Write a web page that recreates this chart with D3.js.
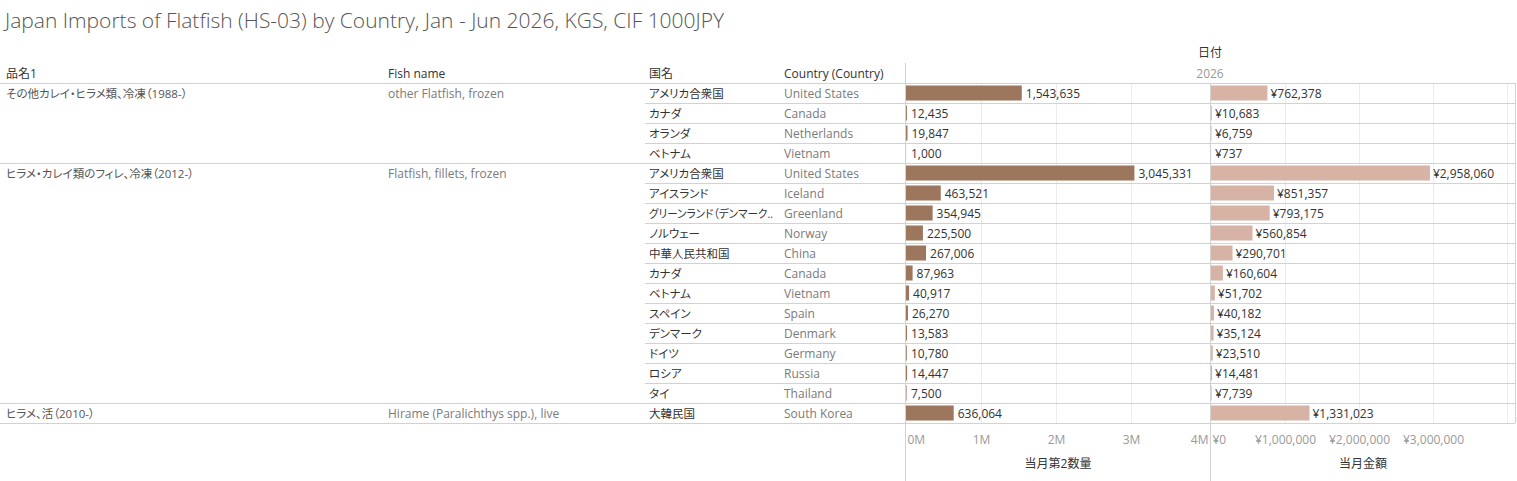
<!DOCTYPE html>
<html>
<head>
<meta charset="utf-8">
<script src="https://cdn.jsdelivr.net/npm/d3@7"></script>
<style>
  body { margin: 0; background: #fff; }
  svg { font-family: "Open Sans", "Noto Sans CJK JP", sans-serif; }
  .ja { font-feature-settings: "palt"; }
</style>
</head>
<body>
<svg id="chart"></svg>
<script>
// chart data
const productJa = ['その他カレイ・ヒラメ類、冷凍（1988-）', 'ヒラメ・カレイ類のフィレ、冷凍（2012-）', 'ヒラメ、活（2010-）'];
const productEn = ['other Flatfish, frozen', 'Flatfish, fillets, frozen', 'Hirame (Paralichthys spp.), live'];
const rowGroup = [0, 0, 0, 0, 1, 1, 1, 1, 1, 1, 1, 1, 1, 1, 1, 1, 2];
const countryJa = ['アメリカ合衆国', 'カナダ', 'オランダ', 'ベトナム', 'アメリカ合衆国', 'アイスランド',
  'グリーンランド（デンマーク..', 'ノルウェー', '中華人民共和国', 'カナダ', 'ベトナム', 'スペイン',
  'デンマーク', 'ドイツ', 'ロシア', 'タイ', '大韓民国'];
const countryEn = ['United States', 'Canada', 'Netherlands', 'Vietnam', 'United States', 'Iceland',
  'Greenland', 'Norway', 'China', 'Canada', 'Vietnam', 'Spain', 'Denmark', 'Germany', 'Russia',
  'Thailand', 'South Korea'];
const quantity = [1543635, 12435, 19847, 1000, 3045331, 463521, 354945, 225500, 267006, 87963,
  40917, 26270, 13583, 10780, 14447, 7500, 636064];
const amount = [762378, 10683, 6759, 737, 2958060, 851357, 793175, 560854, 290701, 160604,
  51702, 40182, 35124, 23510, 14481, 7739, 1331023];
const headers = ['品名1', 'Fish name', '国名', 'Country (Country)'];
const qtyTicks = [0, 1e6, 2e6, 3e6, 4e6];
const amtTicks = [0, 1e6, 2e6, 3e6, 4e6];

const W = 1517;
const H = 481;
const svg = d3.select('#chart').attr('width', W).attr('height', H);

const colX = [6, 388, 649, 784];
const rowTop = 83;
const rowH = 20;
const n = countryJa.length;
const rowBottom = rowTop + rowH * n;

const qtyPanel = [906, 1210];
const amtPanel = [1211, 1515];

const y = d3.scaleBand()
  .domain(d3.range(n))
  .range([rowTop, rowBottom])
  .paddingInner(0.25)
  .paddingOuter(0.125);
const yMid = (i) => y(i) + y.bandwidth() / 2 + 1;

const xQty = d3.scaleLinear().domain([0, 4e6]).range([906, 1206]);
const xAmt = d3.scaleLinear().domain([0, 4e6]).range([1211, 1507]);

const gridColor = '#ececec';
const lineColor = '#d2d2d2';

// title
svg.append('text')
  .attr('x', 5)
  .attr('y', 28)
  .attr('font-size', 21)
  .attr('font-weight', 300)
  .attr('fill', '#555')
  .text('Japan Imports of Flatfish (HS-03) by Country, Jan - Jun 2026, KGS, CIF 1000JPY');

// vertical gridlines in both panels
svg.append('g')
  .selectAll('line')
  .data(qtyTicks.slice(1, 4))
  .join('line')
  .attr('x1', (d) => xQty(d) + 0.5)
  .attr('x2', (d) => xQty(d) + 0.5)
  .attr('y1', rowTop)
  .attr('y2', rowBottom)
  .attr('stroke', gridColor);

svg.append('g')
  .selectAll('line')
  .data(amtTicks.slice(1))
  .join('line')
  .attr('x1', (d) => xAmt(d) + 0.5)
  .attr('x2', (d) => xAmt(d) + 0.5)
  .attr('y1', rowTop)
  .attr('y2', rowBottom)
  .attr('stroke', gridColor);

// row separators: full width at group boundaries, from 国名 column otherwise
const seps = d3.range(n + 1).map((i) => {
  const full = i === 0 || i === n || rowGroup[i] !== rowGroup[i - 1];
  return { y: rowTop + i * rowH, x1: full ? 0 : 645 };
});
svg.append('g')
  .selectAll('line')
  .data(seps)
  .join('line')
  .attr('x1', (d) => d.x1)
  .attr('x2', amtPanel[1])
  .attr('y1', (d) => d.y + 0.5)
  .attr('y2', (d) => d.y + 0.5)
  .attr('stroke', lineColor);

// panel dividers
svg.append('line')
  .attr('x1', 905.5).attr('x2', 905.5)
  .attr('y1', 63).attr('y2', H)
  .attr('stroke', lineColor);
svg.append('line')
  .attr('x1', 1210.5).attr('x2', 1210.5)
  .attr('y1', rowTop).attr('y2', H)
  .attr('stroke', lineColor);
svg.append('line')
  .attr('x1', 1515.5).attr('x2', 1515.5)
  .attr('y1', rowTop).attr('y2', rowBottom)
  .attr('stroke', lineColor);

// column headers
svg.append('g')
  .selectAll('text')
  .data(headers)
  .join('text')
  .attr('class', 'ja')
  .attr('x', (_, i) => colX[i])
  .attr('y', 74)
  .attr('dy', '0.35em')
  .attr('font-size', 12)
  .attr('fill', '#333')
  .text((d) => d);

svg.append('text')
  .attr('class', 'ja')
  .attr('x', 1210)
  .attr('y', 53)
  .attr('dy', '0.35em')
  .attr('text-anchor', 'middle')
  .attr('font-size', 12)
  .attr('fill', '#333')
  .text('日付');

svg.append('text')
  .attr('x', 1210)
  .attr('y', 74)
  .attr('dy', '0.35em')
  .attr('text-anchor', 'middle')
  .attr('font-size', 12)
  .attr('fill', '#999')
  .text('2026');

// product names on the first row of each group
const groupStart = productJa.map((_, g) => rowGroup.indexOf(g));
svg.append('g')
  .selectAll('text')
  .data(productJa)
  .join('text')
  .attr('class', 'ja')
  .attr('x', colX[0])
  .attr('y', (_, g) => yMid(groupStart[g]))
  .attr('dy', '0.35em')
  .attr('font-size', 11.5)
  .attr('fill', '#555')
  .text((d) => d);

svg.append('g')
  .selectAll('text')
  .data(productEn)
  .join('text')
  .attr('x', colX[1])
  .attr('y', (_, g) => yMid(groupStart[g]))
  .attr('dy', '0.35em')
  .attr('font-size', 12)
  .attr('fill', '#7a7a7a')
  .text((d) => d);

// country names
svg.append('g')
  .selectAll('text')
  .data(countryJa)
  .join('text')
  .attr('class', 'ja')
  .attr('x', colX[2])
  .attr('y', (_, i) => yMid(i))
  .attr('dy', '0.35em')
  .attr('font-size', 11.5)
  .attr('fill', '#333')
  .text((d) => d)
  .each(function () {
    // keep long names inside the column, as the reference truncates them
    const w = this.getComputedTextLength();
    if (w > 124) {
      d3.select(this).attr('textLength', 124).attr('lengthAdjust', 'spacingAndGlyphs');
    }
  });

svg.append('g')
  .selectAll('text')
  .data(countryEn)
  .join('text')
  .attr('x', colX[3])
  .attr('y', (_, i) => yMid(i))
  .attr('dy', '0.35em')
  .attr('font-size', 12)
  .attr('fill', '#7a7a7a')
  .text((d) => d);

// bars
svg.append('g')
  .selectAll('rect')
  .data(quantity)
  .join('rect')
  .attr('x', xQty(0))
  .attr('y', (_, i) => y(i))
  .attr('width', (d) => xQty(d) - xQty(0))
  .attr('height', y.bandwidth())
  .attr('fill', '#9c775d');

svg.append('g')
  .selectAll('rect')
  .data(amount)
  .join('rect')
  .attr('x', xAmt(0))
  .attr('y', (_, i) => y(i))
  .attr('width', (d) => xAmt(d) - xAmt(0))
  .attr('height', y.bandwidth())
  .attr('fill', '#d6b3a5');

// value labels
const fmt = d3.format(',');
svg.append('g')
  .selectAll('text')
  .data(quantity)
  .join('text')
  .attr('x', (d) => Math.max(xQty(d), xQty(0) + 1) + 4)
  .attr('y', (_, i) => yMid(i))
  .attr('dy', '0.35em')
  .attr('font-size', 12)
  .attr('fill', '#333')
  .text((d) => fmt(d));

svg.append('g')
  .selectAll('text')
  .data(amount)
  .join('text')
  .attr('x', (d) => Math.max(xAmt(d), xAmt(0) + 1) + 3)
  .attr('y', (_, i) => yMid(i))
  .attr('dy', '0.35em')
  .attr('font-size', 12)
  .attr('fill', '#333')
  .text((d) => `¥${fmt(d)}`);

// axes
const qtyAxis = svg.append('g')
  .attr('transform', `translate(0,${rowBottom + 9})`)
  .call(d3.axisBottom(xQty)
    .tickValues(qtyTicks)
    .tickSize(0)
    .tickFormat((d) => `${d / 1e6}M`));
qtyAxis.select('.domain').remove();
qtyAxis.selectAll('text')
  .attr('font-family', '"Open Sans", "Noto Sans CJK JP", sans-serif')
  .attr('font-size', 12)
  .attr('fill', '#999')
  .attr('text-anchor', (_, i) => (i === 0 ? 'start' : (i === qtyTicks.length - 1 ? 'end' : 'middle')))
  .attr('dx', (_, i) => (i === 0 ? 1 : (i === qtyTicks.length - 1 ? 2 : 0)));

const amtAxis = svg.append('g')
  .attr('transform', `translate(0,${rowBottom + 9})`)
  .call(d3.axisBottom(xAmt)
    .tickValues(amtTicks.slice(0, 4))
    .tickSize(0)
    .tickFormat((d) => `¥${fmt(d)}`));
amtAxis.select('.domain').remove();
amtAxis.selectAll('text')
  .attr('font-family', '"Open Sans", "Noto Sans CJK JP", sans-serif')
  .attr('font-size', 12)
  .attr('fill', '#999')
  .attr('text-anchor', (_, i) => (i === 0 ? 'start' : 'middle'))
  .attr('dx', (_, i) => (i === 0 ? 1 : 0));

svg.append('text')
  .attr('class', 'ja')
  .attr('x', (qtyPanel[0] + qtyPanel[1]) / 2)
  .attr('y', 464)
  .attr('dy', '0.35em')
  .attr('text-anchor', 'middle')
  .attr('font-size', 12)
  .attr('fill', '#333')
  .text('当月第2数量');

svg.append('text')
  .attr('class', 'ja')
  .attr('x', (amtPanel[0] + amtPanel[1]) / 2)
  .attr('y', 464)
  .attr('dy', '0.35em')
  .attr('text-anchor', 'middle')
  .attr('font-size', 12)
  .attr('fill', '#333')
  .text('当月金額');
</script>
</body>
</html>
